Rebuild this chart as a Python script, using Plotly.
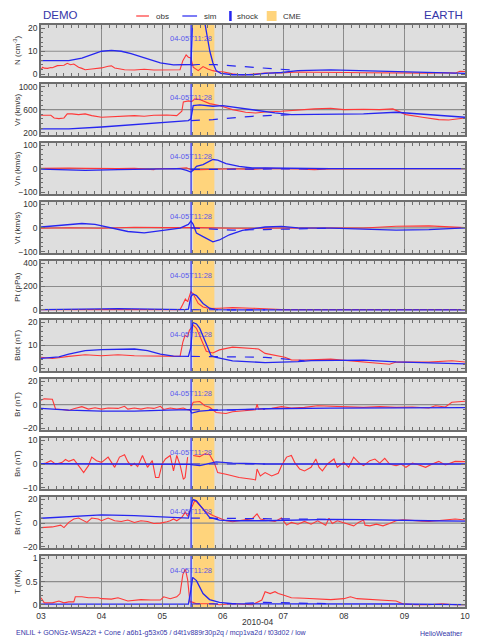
import pandas as pd
import plotly.graph_objects as go
from plotly.subplots import make_subplots

# ---------------- data (hours since 2010-04-03 00:00 UT) ----------------
START = "2010-04-03 00:00"
SHOCK_H = 59.47          # 04-05T11:28
CME_H = [60.3, 68.7]     # CME interval
X_TICK_FMT = "%d"

N_obs_h = [0, 0.65, 1.3, 2.6, 3.9, 4.5, 6.5, 8.4, 9.1, 10.4, 11.7, 13.0, 14.9, 16.2, 17.5, 20.1, 24.0, 26.6, 27.9, 29.2, 33.1, 37.0, 40.9, 44.7, 49.9, 55.1, 56.2, 57.5, 58.4, 59.4, 60.3, 62.3, 64.2, 66.1, 68.1, 70.0, 72.0, 75.9, 80.0, 83.7, 86.2, 88.8, 95.3, 99.2, 101.8, 108.3, 114.8, 121.3, 127.8, 134.2, 140.7, 147.2, 153.7, 160.2, 164.1, 166.0, 168.0]
N_obs = [1.9, 3.0, 2.6, 2.5, 2.9, 2.8, 3.7, 4.0, 3.9, 4.7, 4.1, 4.4, 3.0, 2.5, 1.9, 2.2, 2.7, 3.4, 3.6, 2.7, 1.9, 1.8, 2.1, 1.8, 1.8, 1.9, 5.9, 8.4, 7.4, 7.1, 3.0, 1.5, 3.3, 2.2, 1.5, 1.0, 1.0, 0.1, -0.4, 0.1, 0.3, 0.5, 0.5, 0.9, 0.9, 0.8, 0.6, 0.7, 0.6, 0.5, 0.5, 0.6, 0.4, 0.6, 0.4, 1.2, 1.1]
N_sim_h = [0, 11.0, 16.2, 20.1, 24.0, 27.9, 31.8, 35.7, 39.6, 43.5, 47.3, 52.5, 59.4, 59.8, 60.1, 62.9, 64.5, 65.2, 66.1, 66.9, 68.1, 69.4, 71.3, 75.9, 83.7, 88.8, 95.3, 101.8, 114.8, 127.8, 140.7, 153.7, 168.0]
N_sim = [5.9, 5.9, 7.0, 8.5, 10.0, 10.4, 10.0, 9.0, 7.7, 6.2, 4.9, 4.0, 4.2, 15, 25, 35, 25, 21, 14, 10, 5, 1.5, 0.3, -0.3, -0.3, 0.3, 0.7, 1.5, 1.8, 1.5, 1.0, 0.7, 0.3]
N_amb_h = [59.4, 62.3, 69.4, 82.4, 95.3, 101.8]
N_amb = [3.9, 4.2, 4.1, 3.2, 2.2, 1.6]

Vr_obs_h = [0, 1.9, 3.9, 5.2, 7.1, 9.1, 10.4, 12.3, 14.9, 17.5, 20.1, 24.0, 27.9, 31.8, 37.0, 40.9, 44.7, 49.9, 53.8, 55.8, 56.4, 58.4, 59.7, 61.0, 62.9, 66.8, 70.7, 75.9, 81.1, 85.0, 88.8, 95.3, 101.8, 108.3, 114.8, 120.0, 127.8, 134.2, 139.4, 144.6, 151.1, 157.6, 161.5, 165.4, 168.0]
Vr_obs = [501, 507, 501, 455, 443, 455, 525, 525, 513, 525, 496, 467, 478, 484, 496, 484, 501, 507, 496, 571, 733, 751, 739, 786, 774, 704, 670, 600, 554, 542, 559, 571, 594, 612, 623, 600, 606, 600, 612, 513, 467, 426, 420, 449, 455]
Vr_sim_h = [0, 11.0, 24.0, 37.0, 49.9, 58.4, 59.4, 60.1, 60.3, 62.9, 68.1, 72.0, 75.9, 83.7, 92.7, 99.2, 114.8, 127.8, 140.7, 144.6, 153.7, 168.0]
Vr_sim = [264, 264, 298, 339, 391, 409, 440, 650, 670, 681, 658, 670, 646, 588, 542, 513, 513, 525, 554, 542, 513, 467]
Vr_amb_h = [59.4, 68.1, 83.7, 99.2]
Vr_amb = [409, 426, 484, 513]

Vn_obs_h = [0, 5.2, 11.0, 17.5, 24.0, 30.5, 37.0, 44.7, 45.4, 52.5, 57.7, 59.4, 62.9, 69.4, 75.9, 83.7, 88.8, 101.8, 108.3, 114.8, 127.8, 140.7, 153.7, 168.0]
Vn_obs = [1.4, 3, 2.9, 1.4, 0, 1, 1.4, -4, 0, 0, 4, -4, -4, -1, 0, -3, 1.4, -1.4, -4, -1.4, 0, 1.4, 0, 0]
Vn_sim_h = [0, 11.0, 17.5, 30.5, 43.5, 55.1, 57.7, 59.4, 60.3, 61.6, 64.2, 66.8, 68.1, 70.0, 73.3, 78.5, 83.7, 88.8, 101.8, 114.8, 168.0]
Vn_sim = [-1.4, -6, -7, -4, -1, 0, -7, -14, -7, 10, 17, 30, 39, 36, 22, 10, 3, 3, 1, 0, 0]
Vn_amb_h = [59.4, 70.7, 88.8, 114.8]
Vn_amb = [-3, -2, -1, 0]

Vt_obs_h = [0, 11.0, 24.0, 37.0, 49.9, 57.7, 62.9, 75.9, 88.8, 114.8, 127.8, 140.7, 153.7, 160.2, 168.0]
Vt_obs = [-1, 1, -1, 3, 1.5, 3, 1.5, -1.5, 0, 0, 0, 7, 9, 7, 1.5]
Vt_sim_h = [0, 11.0, 16.2, 21.4, 27.9, 34.4, 40.9, 47.3, 55.1, 58.4, 59.4, 60.3, 61.6, 64.2, 68.1, 70.7, 74.6, 79.8, 88.8, 95.3, 101.8, 114.8, 127.8, 140.7, 153.7, 168.0]
Vt_sim = [4, 15, 19, 15, 0, -15, -21, -13, -1, 15, 29, 15, -22, -37, -59, -51, -29, -10, 4, 7, 0, -1, -4, -9, -7, 0]
Vt_amb_h = [59.4, 75.9, 88.8, 101.8, 114.8]
Vt_amb = [0, -9, -7, -3, -1]

Pt_obs_h = [0, 11.0, 24.0, 37.0, 49.9, 55.1, 56.2, 57.2, 58.1, 59.4, 60.3, 62.3, 64.2, 66.8, 70.7, 75.9, 83.7, 88.8, 95.3, 101.8, 168.0]
Pt_obs = [3, 3, 6, 6, 3, 3, 49, 93, 70, 157, 136, 55, 26, 12, 15, 20, 15, 9, 3, 3, 3]
Pt_sim_h = [0, 11.0, 24.0, 30.5, 39.6, 47.3, 57.1, 58.4, 59.4, 60.3, 61.6, 64.2, 66.8, 69.4, 75.9, 168.0]
Pt_sim = [2, 3, 9, 12, 9, 3, 2, 6, 113, 136, 122, 55, 15, 3, 1, 1]
Pt_amb_h = [59.4, 88.8]
Pt_amb = [2, 1]

Btot_obs_h = [0, 4.5, 11.0, 17.5, 24.0, 30.5, 37.0, 43.5, 49.9, 55.1, 56.2, 57.1, 58.0, 58.8, 59.4, 60.3, 61.6, 63.6, 65.5, 68.1, 70.7, 75.9, 81.1, 86.2, 88.8, 91.4, 95.3, 96.6, 99.2, 104.4, 114.8, 122.6, 127.8, 134.2, 138.1, 140.7, 147.2, 153.7, 162.8, 168.0]
Btot_obs = [4.9, 4.4, 5.3, 6.0, 5.6, 6.0, 5.6, 5.6, 5.4, 5.3, 11.5, 14.4, 13.7, 16.6, 17.4, 18.8, 17.4, 12.2, 7.5, 6.8, 8.1, 9.3, 9.0, 8.5, 6.6, 6.0, 5.3, 4.9, 3.8, 3.7, 4.1, 3.4, 2.9, 2.2, 1.9, 2.9, 2.9, 2.8, 3.4, 2.9]
Btot_sim_h = [0, 7.1, 11.0, 17.5, 24.0, 37.0, 42.2, 47.3, 52.5, 58.4, 59.4, 60.1, 61.6, 62.9, 65.5, 67.4, 69.4, 75.9, 88.8, 101.8, 107.0, 114.8, 127.8, 140.7, 153.7, 168.0]
Btot_sim = [4.4, 5.1, 6.3, 7.8, 8.2, 8.5, 7.8, 6.3, 5.4, 5.3, 9.3, 20.0, 19.3, 17.4, 10.7, 5.6, 4.9, 3.4, 2.6, 3.0, 3.5, 3.6, 3.7, 2.9, 2.4, 2.1]
Btot_amb_h = [59.4, 62.9, 75.9, 88.8, 99.2, 104.4]
Btot_amb = [5.3, 5.3, 5.1, 4.9, 4.1, 3.4]

Br_obs_h = [0, 1.3, 4.5, 5.8, 8.4, 11.0, 13.0, 16.2, 18.8, 21.4, 24.0, 26.6, 30.5, 33.1, 34.4, 37.0, 39.6, 42.2, 44.7, 47.3, 48.6, 51.2, 53.8, 56.4, 57.7, 59.0, 60.3, 62.9, 64.9, 66.8, 69.4, 73.3, 75.9, 81.1, 85.0, 85.6, 86.2, 91.4, 95.3, 99.2, 104.4, 109.6, 114.8, 121.3, 127.8, 134.2, 140.7, 147.2, 153.7, 156.3, 160.2, 162.8, 166.0, 168.0]
Br_obs = [3.8, 4.9, 4.6, -3.8, -4.1, -4.9, -3.5, -1.7, -3.8, -2.6, -3.8, -2.9, -3.2, -1.4, -3.8, -2.9, -3.8, -2.6, -3.2, -1.4, -4.1, -2.9, -3.8, -2.9, -4.1, -4.6, 2.0, 2.6, -0.9, -2.3, -6.7, -7.5, -6.1, -5.2, -4.3, 0.3, -3.8, -3.2, -1.7, -2.9, -2.3, -0.9, -1.4, -2.0, -2.3, -1.7, -2.3, -2.0, -2.9, -0.9, -2.0, 2.0, 2.3, 2.9]
Br_sim_h = [0, 11.0, 24.0, 37.0, 49.9, 59.0, 59.7, 62.9, 66.8, 75.9, 88.8, 114.8, 168.0]
Br_sim = [-3.2, -4.6, -5.5, -5.5, -4.6, -4.3, -7.2, -5.5, -4.9, -4.1, -3.5, -2.9, -2.6]
Br_amb_h = [59.4, 75.9, 88.8]
Br_amb = [-4.3, -4.6, -3.8]

Bn_obs_h = [0, 1.95, 3.9, 5.8, 8.4, 9.7, 11.0, 13.0, 14.9, 16.9, 18.8, 20.1, 22.0, 24.0, 26.6, 29.2, 31.1, 33.1, 34.4, 35.7, 37.0, 38.3, 40.2, 42.2, 44.1, 45.4, 46.7, 48.0, 49.3, 51.2, 52.5, 53.8, 55.1, 56.4, 57.1, 58.1, 59.0, 60.3, 62.9, 64.9, 66.8, 68.7, 70.0, 73.3, 78.5, 83.7, 85.0, 85.6, 86.9, 88.8, 91.4, 94.0, 95.3, 97.3, 99.2, 100.5, 102.5, 104.4, 107.0, 108.9, 110.2, 111.5, 113.5, 116.1, 117.4, 120.0, 121.9, 123.9, 125.8, 127.8, 130.3, 132.3, 134.2, 136.2, 138.1, 140.7, 142.7, 144.6, 147.2, 149.8, 152.4, 155.0, 157.6, 160.2, 164.1, 168.0]
Bn_obs = [-0.1, 0.4, 1.4, -0.1, 0.7, 1.9, 1.1, 1.9, -0.7, -3.6, -0.7, 2.9, 1.4, 0.7, 2.9, -1.4, 2.9, 3.9, 1.0, -0.7, 0.3, -1.1, 3.6, -1.4, 1.4, -5.7, -5.7, 0.0, 2.1, 3.6, -2.9, 3.6, -0.4, -6.4, -5.7, 2.9, None, 3.6, 3.1, 4.3, 3.9, 0.4, -3.6, -4.3, -5.7, -6.4, -6.7, -2.1, -5.0, -3.6, -5.0, -3.9, -0.7, 2.9, 3.6, 0.7, -2.1, -2.9, -1.4, 2.1, -1.4, -2.9, 0.0, 2.1, -1.4, 0.7, -1.4, 2.9, 0.7, -0.7, 1.4, 2.1, 0.4, 2.4, 0.0, -0.7, 0.0, -1.4, 0.4, -0.4, -1.4, 0.0, 1.1, -0.4, 1.1, 1.0]
Bn_sim_h = [0, 49.9, 59.0, 60.3, 62.9, 65.5, 69.4, 75.9, 88.8, 168.0]
Bn_sim = [0.1, 0.0, -0.1, -0.4, -0.7, -0.1, 0.9, 0.4, 0.0, 0.0]
Bn_amb_h = [59.4, 88.8]
Bn_amb = [0.0, 0.0]

Bt_obs_h = [0, 4.5, 7.8, 9.1, 11.0, 13.0, 14.9, 16.9, 18.2, 20.1, 22.7, 24.0, 26.6, 29.2, 31.8, 34.4, 37.0, 39.6, 42.2, 44.7, 47.3, 49.9, 51.2, 52.5, 53.8, 55.8, 57.2, 58.1, 59.4, 61.0, 62.9, 65.5, 68.1, 70.7, 73.3, 75.9, 78.5, 81.1, 83.7, 85.6, 86.9, 88.8, 92.7, 95.3, 97.3, 99.2, 101.8, 104.4, 107.0, 109.6, 112.8, 114.1, 115.4, 117.4, 121.3, 123.9, 125.8, 127.8, 128.4, 130.3, 132.9, 135.5, 138.1, 140.7, 143.3, 147.2, 151.1, 153.7, 157.6, 161.5, 164.1, 168.0]
Bt_obs = [-3.8, -3.2, -1.7, -3.8, 0.6, 3.5, 4.3, 2.0, 0.6, 4.3, 3.5, 2.0, 4.3, 2.0, 1.4, 2.6, 0.6, 2.0, 1.4, -0.3, 0.0, 1.2, 2.0, 3.5, 2.0, 4.9, 9.3, 5.8, 12.2, 19.4, 15.0, 9.3, 6.4, 4.3, 2.0, 1.2, 2.0, 2.9, 3.8, 7.8, 3.5, 2.6, 1.4, 4.3, -1.7, 0.6, -0.9, 1.4, -0.9, 2.0, -1.7, 4.1, -0.3, 2.0, -0.3, -2.3, 0.6, 2.6, -1.7, -2.3, -0.9, -2.3, -0.3, 2.0, 2.9, 2.0, 1.7, 1.4, 2.3, 2.6, 3.5, 2.6]
Bt_sim_h = [0, 11.0, 24.0, 37.0, 49.9, 58.4, 59.4, 60.1, 61.6, 64.2, 66.8, 70.7, 75.9, 88.8, 101.8, 114.8, 127.8, 140.7, 153.7, 168.0]
Bt_sim = [4.1, 5.5, 7.0, 6.4, 4.9, 4.3, 13.6, 20.0, 18.8, 12.2, 4.9, 2.6, 2.0, 2.0, 2.6, 3.2, 2.9, 2.3, 2.0, 1.7]
Bt_amb_h = [59.4, 75.9, 95.3, 114.8]
Bt_amb = [4.3, 4.1, 3.5, 3.2]

T_obs_h = [0, 1.3, 4.5, 7.1, 9.1, 11.0, 13.0, 13.6, 16.2, 18.8, 22.7, 24.0, 27.9, 30.5, 34.4, 39.6, 43.5, 47.3, 48.6, 51.2, 53.8, 55.1, 56.2, 57.2, 58.1, 59.0, 59.7, 61.6, 64.2, 68.1, 70.7, 75.9, 83.7, 87.5, 88.8, 90.8, 92.7, 94.0, 96.0, 99.2, 104.4, 109.6, 114.8, 120.0, 122.6, 125.2, 130.3, 135.5, 140.7, 143.3, 148.5, 153.7, 158.9, 164.1, 168.0]
T_obs = [0.15, 0.04, 0.04, 0.08, 0.04, 0.06, 0.06, 0.17, 0.17, 0.15, 0.15, 0.13, 0.12, 0.15, 0.08, 0.11, 0.10, 0.10, 0.17, 0.13, 0.17, 0.24, 0.65, 0.77, 0.54, 0.06, 0.06, 0.02, 0.02, 0.02, 0.0, 0.02, 0.0, 0.10, 0.28, 0.24, 0.28, 0.24, 0.21, 0.15, 0.14, 0.13, 0.11, 0.13, 0.17, 0.13, 0.11, 0.10, 0.08, 0.02, 0.0, 0.0, 0.02, 0.0, 0.0]
T_sim_h = [0, 24.0, 49.9, 58.4, 59.4, 60.1, 61.6, 64.2, 66.8, 70.7, 75.9, 88.8, 101.8, 140.7, 168.0]
T_sim = [0.01, 0.01, 0.015, 0.015, 0.32, 0.59, 0.52, 0.24, 0.11, 0.05, 0.02, 0.02, 0.02, 0.015, 0.0]
T_amb_h = [59.4, 70.7, 75.9, 88.8, 101.8, 114.8]
T_amb = [0.015, 0.01, 0.02, 0.05, 0.04, 0.02]

PANELS = [
    ("N (cm<sup>-3</sup>)", N_obs_h, N_obs, N_sim_h, N_sim, N_amb_h, N_amb, [-0.8, 21.5], [0, 10, 20]),
    ("Vr (km/s)", Vr_obs_h, Vr_obs, Vr_sim_h, Vr_sim, Vr_amb_h, Vr_amb, [160, 1045], [200, 600, 1000]),
    ("Vn (km/s)", Vn_obs_h, Vn_obs, Vn_sim_h, Vn_sim, Vn_amb_h, Vn_amb, [-107, 109], [-100, 0, 100]),
    ("Vt (km/s)", Vt_obs_h, Vt_obs, Vt_sim_h, Vt_sim, Vt_amb_h, Vt_amb, [-106, 110], [-100, 0, 100]),
    ("Pt (pPa)", Pt_obs_h, Pt_obs, Pt_sim_h, Pt_sim, Pt_amb_h, Pt_amb, [-17, 417], [0, 200, 400]),
    ("Btot (nT)", Btot_obs_h, Btot_obs, Btot_sim_h, Btot_sim, Btot_amb_h, Btot_amb, [-1, 21], [0, 10, 20]),
    ("Br (nT)", Br_obs_h, Br_obs, Br_sim_h, Br_sim, Br_amb_h, Br_amb, [-21.5, 21.7], [-20, 0, 20]),
    ("Bn (nT)", Bn_obs_h, Bn_obs, Bn_sim_h, Bn_sim, Bn_amb_h, Bn_amb, [-10.5, 10.9], [-10, 0, 10]),
    ("Bt (nT)", Bt_obs_h, Bt_obs, Bt_sim_h, Bt_sim, Bt_amb_h, Bt_amb, [-21, 22], [-20, 0, 20]),
    ("T (MK)", T_obs_h, T_obs, T_sim_h, T_sim, T_amb_h, T_amb, [-0.05, 1.05], [0, 0.5, 1]),
]

# ---------------- styling ----------------
FONT = "Liberation Sans, Arial, Helvetica, sans-serif"
RED = "#ff3838"
BLUE = "#2626f0"
LABEL_BLUE = "#4b4bf0"
TITLE_BLUE = "#3535a8"
FRAME = "#6e6e6e"
GRID = "#8c8c8c"
BG = "#dedede"
CME_COL = "#ffd47c"

t0 = pd.Timestamp(START)


def times(hours):
    return [t0 + pd.Timedelta(hours=h) for h in hours]


# the page adds an 8px body margin; the figure is sized so the page matches 480x640
OFF = 8
W, H = 480 - OFF, 640 - OFF
PL, PR, PT, PB = 38, 470, 25, 607          # plot area in page pixels
L, R, T, B = PL - OFF, (480 - PR), PT - OFF, (640 - PB)
plot_h = PB - PT
gap = 8.1
n = len(PANELS)

fig = make_subplots(rows=n, cols=1, shared_xaxes=True, vertical_spacing=gap / plot_h)

shock_t = t0 + pd.Timedelta(hours=SHOCK_H)
cme0 = t0 + pd.Timedelta(hours=CME_H[0])
cme1 = t0 + pd.Timedelta(hours=CME_H[1])


def px(x):
    return (x - PL) / (PR - PL)


def py(y):
    return (PB - y) / (PB - PT)


shapes = []
annots = []
for i, (title, oh, ov, sh, sv, ah, av, rng, tv) in enumerate(PANELS, start=1):
    fig.add_trace(go.Scatter(x=times(oh), y=ov, mode="lines", line=dict(color=RED, width=1.1),
                             showlegend=False, hoverinfo="skip"), row=i, col=1)
    fig.add_trace(go.Scatter(x=times(ah), y=av, mode="lines", line=dict(color=BLUE, width=1.2, dash="dash"),
                             showlegend=False, hoverinfo="skip"), row=i, col=1)
    fig.add_trace(go.Scatter(x=times(sh), y=sv, mode="lines", line=dict(color=BLUE, width=1.3),
                             showlegend=False, hoverinfo="skip"), row=i, col=1)
    ysuf = "" if i == 1 else str(i)
    xr = "x" + ysuf
    yr = "y" + ysuf
    step = tv[1] - tv[0]
    fig.update_yaxes(row=i, col=1, range=rng, tickmode="array", tickvals=tv,
                     ticks="inside", ticklen=4, tickcolor=FRAME, showgrid=False, zeroline=False,
                     showline=True, linecolor=FRAME, linewidth=1.5, mirror="ticks",
                     tickfont=dict(size=8.5, color="#333333", family=FONT),
                     minor=dict(ticks="inside", ticklen=2, tickcolor=FRAME, dtick=step / 5, tick0=tv[0], showgrid=False))
    shapes.append(dict(type="rect", xref=xr, yref=yr + " domain", x0=cme0, x1=cme1, y0=0, y1=1,
                       fillcolor=CME_COL, line=dict(width=0), layer="below"))
    shapes.append(dict(type="line", xref=xr + " domain", yref=yr, x0=0, x1=1, y0=tv[1], y1=tv[1],
                       line=dict(color=GRID, width=1.2), layer="below"))
    shapes.append(dict(type="line", xref=xr, yref=yr + " domain", x0=shock_t, x1=shock_t, y0=0, y1=1,
                       line=dict(color=BLUE, width=1.2), layer="above"))
    annots.append(dict(text="04-05T11:28", x=shock_t, xref=xr, y=1 - 14 / 51, yref=yr + " domain",
                       showarrow=False, font=dict(size=7.5, color=LABEL_BLUE, family=FONT),
                       xanchor="center", yanchor="middle", opacity=0.9))
    annots.append(dict(text=title, x=px(14), xref="paper", y=0.5, yref=yr + " domain",
                       textangle=-90, showarrow=False, font=dict(size=8, color="#333333", family=FONT),
                       xanchor="center", yanchor="middle"))

fig.update_xaxes(type="date", range=[t0, t0 + pd.Timedelta(days=7)], dtick=86400000, tick0=t0,
                 tickformat=X_TICK_FMT, ticks="inside", ticklen=4, tickcolor=FRAME,
                 showgrid=True, gridcolor=GRID, gridwidth=1.3, zeroline=False,
                 showline=True, linecolor=FRAME, linewidth=1.5, mirror="ticks",
                 minor=dict(dtick=3 * 3600000, ticks="inside", ticklen=3, tickcolor=FRAME, showgrid=False),
                 tickfont=dict(size=8.5, color="#333333", family=FONT))
fig.update_xaxes(showticklabels=True, row=n, col=1)

# header / legend / footer
annots += [
    dict(text="DEMO", x=0, y=py(15), xref="paper", yref="paper", xanchor="left", yanchor="middle",
         showarrow=False, font=dict(size=11.5, color=TITLE_BLUE, family=FONT)),
    dict(text="EARTH", x=1, y=py(15), xref="paper", yref="paper", xanchor="right", yanchor="middle",
         showarrow=False, font=dict(size=11.5, color=TITLE_BLUE, family=FONT)),
    dict(text="obs", x=px(153), y=py(16), xref="paper", yref="paper", xanchor="left", yanchor="middle",
         showarrow=False, font=dict(size=8, color="#333333", family=FONT)),
    dict(text="sim", x=px(202), y=py(16), xref="paper", yref="paper", xanchor="left", yanchor="middle",
         showarrow=False, font=dict(size=8, color="#333333", family=FONT)),
    dict(text="shock", x=px(236), y=py(16), xref="paper", yref="paper", xanchor="left", yanchor="middle",
         showarrow=False, font=dict(size=8, color="#333333", family=FONT)),
    dict(text="CME", x=px(283), y=py(16), xref="paper", yref="paper", xanchor="left", yanchor="middle",
         showarrow=False, font=dict(size=8, color="#333333", family=FONT)),
    dict(text="2010-04", x=px(259), y=py(622), xref="paper", yref="paper", xanchor="center", yanchor="middle",
         showarrow=False, font=dict(size=8.5, color="#333333", family=FONT)),
    dict(text="ENLIL + GONGz-WSA22t + Cone / a6b1-g53x05 / d4t1v889r30p2q / mcp1va2d / t03d02 / low",
         x=px(10), y=py(633), xref="paper", yref="paper", xanchor="left", yanchor="middle",
         showarrow=False, font=dict(size=7, color=TITLE_BLUE, family=FONT)),
    dict(text="HelioWeather", x=1, y=py(633), xref="paper", yref="paper", xanchor="right", yanchor="middle",
         showarrow=False, font=dict(size=7, color=TITLE_BLUE, family=FONT)),
]
shapes += [
    dict(type="line", xref="paper", yref="paper", x0=px(135), x1=px(148), y0=py(16), y1=py(16),
         line=dict(color=RED, width=1.2)),
    dict(type="line", xref="paper", yref="paper", x0=px(182), x1=px(197), y0=py(16), y1=py(16),
         line=dict(color=BLUE, width=1.2)),
    dict(type="line", xref="paper", yref="paper", x0=px(231), x1=px(231), y0=py(11), y1=py(21),
         line=dict(color=BLUE, width=2.5)),
    dict(type="rect", xref="paper", yref="paper", x0=px(268), x1=px(278), y0=py(11), y1=py(21),
         fillcolor=CME_COL, line=dict(width=0)),
]

fig.update_layout(width=W, height=H, margin=dict(l=L, r=R, t=T, b=B),
                  paper_bgcolor="white", plot_bgcolor=BG, showlegend=False,
                  shapes=shapes, annotations=annots, font=dict(family=FONT))

fig.write_html("out.html")
